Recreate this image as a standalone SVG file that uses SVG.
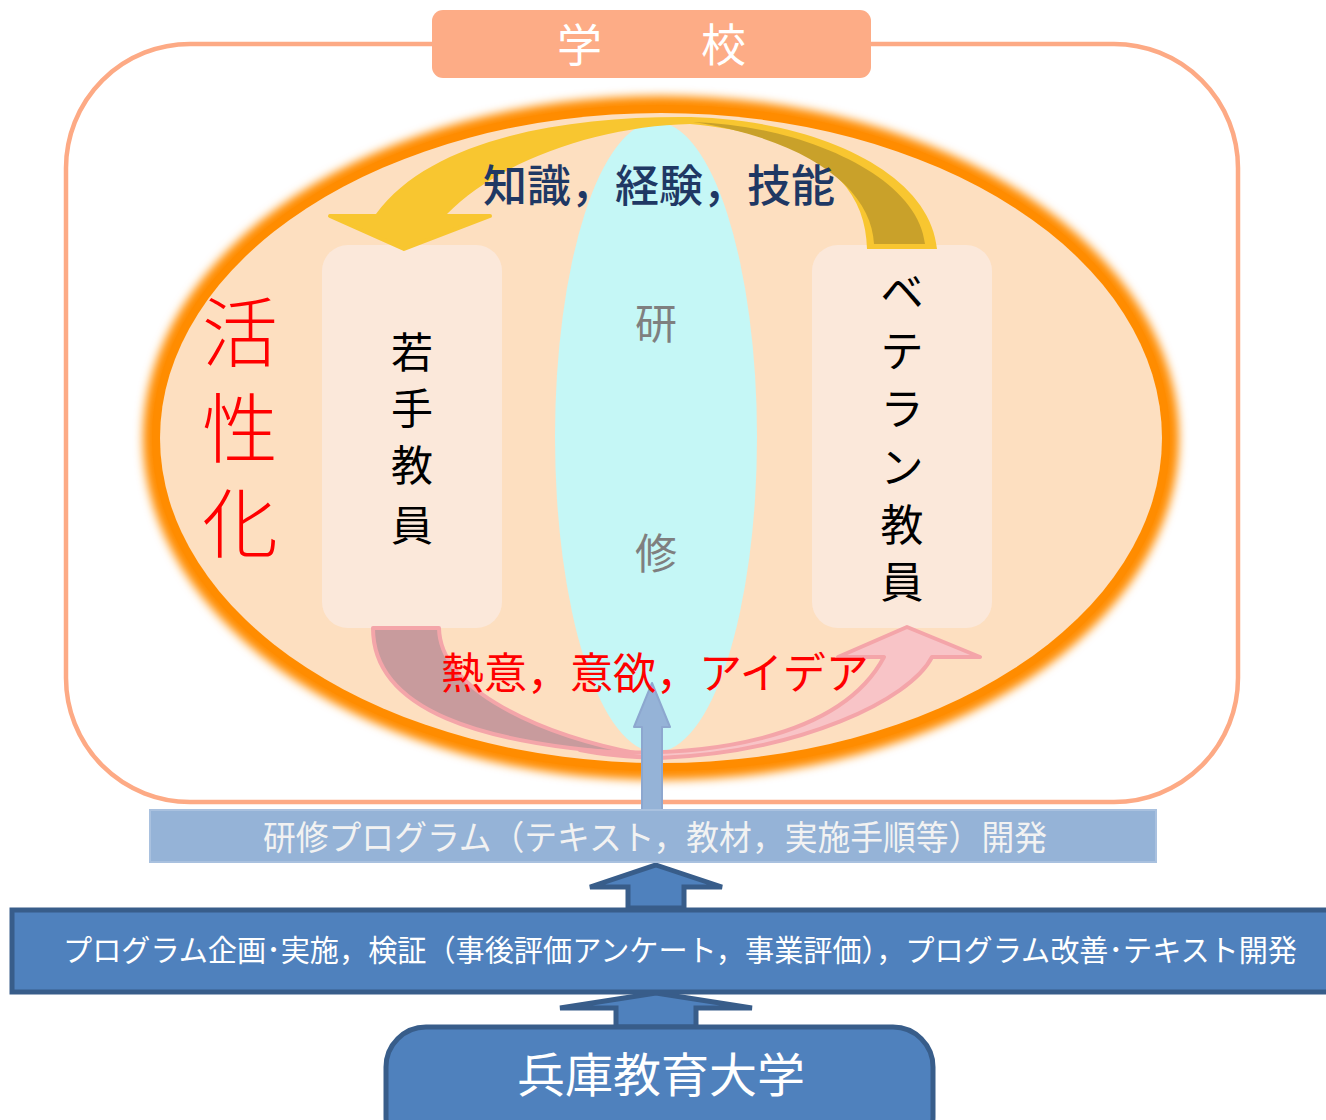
<svg xmlns="http://www.w3.org/2000/svg" width="1326" height="1120" viewBox="0 0 1326 1120">
<defs>
<style>
text{font-family:"Noto Sans CJK JP","Noto Sans CJK SC",sans-serif}
.ctr{text-anchor:middle}
.pinkband{stroke:#F4A5A9;stroke-width:4;stroke-linejoin:round}
.navy{fill:#4F81BD;stroke:#385D8A;stroke-width:5}
</style>
<filter id="glow" x="-10%" y="-10%" width="120%" height="120%"><feGaussianBlur stdDeviation="5"/></filter>
</defs>
<rect width="1326" height="1120" fill="#FFFFFF"/>

<g id="school-frame">
<rect x="66" y="44" width="1172" height="758" rx="124" ry="124" fill="none" stroke="#FDAA85" stroke-width="4.5"/>
</g>

<g id="activation-ellipse">
<ellipse cx="661" cy="438" rx="518" ry="342" fill="#FF8C00" filter="url(#glow)"/>
<ellipse cx="661" cy="438" rx="509" ry="333" fill="#FF8C00"/>
<ellipse cx="661" cy="438" rx="501" ry="325" fill="#FDDFC0"/>
</g>

<g id="training">
<ellipse cx="656" cy="437" rx="101" ry="315" fill="#C5F7F6"/>
<text class="ctr" x="656" y="339" font-size="42" fill="#7F7F7F">研</text>
<text class="ctr" x="656" y="569" font-size="42" fill="#7F7F7F">修</text>
</g>

<g id="young-teacher">
<rect x="322" y="245" width="180" height="383" rx="26" fill="#FBE8DA"/>
<text class="ctr" font-size="42" fill="#000000"><tspan x="412" y="368">若</tspan><tspan x="412" y="424">手</tspan><tspan x="412" y="481">教</tspan><tspan x="412" y="541">員</tspan></text>
</g>

<g id="veteran-teacher">
<rect x="812" y="245" width="180" height="383" rx="26" fill="#FBE8DA"/>
<text class="ctr" font-size="43" fill="#000000"><tspan x="902" y="308">ベ</tspan><tspan x="902" y="367">テ</tspan><tspan x="902" y="425">ラ</tspan><tspan x="902" y="483">ン</tspan><tspan x="902" y="541">教</tspan><tspan x="902" y="598">員</tspan></text>
</g>

<g id="activation-label">
<text class="ctr" font-size="76" font-weight="300" fill="#FF0000"><tspan x="240" y="361">活</tspan><tspan x="240" y="457">性</tspan><tspan x="240" y="552">化</tspan></text>
</g>

<g id="connectors">
<g id="knowledge-arrow">
<path d="M376 214 C430 140 560 117 680 117 C810 117 930 170 937 249 L867 249 C866 180 810 135 690 124 C600 126 500 160 447 214 Z" fill="#F8C630"/>
<path d="M330 216 L490 216 L404 249 Z" fill="#F8C630" stroke="#F8C630" stroke-width="4" stroke-linejoin="round"/>
<path d="M693 122 C800 125 918 175 925 244 L874 244 C872 190 810 140 693 122 Z" fill="#C9A12A"/>
</g>
<g id="passion-arrow">
<path class="pinkband" d="M373 628 L439 628 C440 690 540 735 640 754 C480 745 373 710 373 628 Z" fill="#C89B9D"/>
<path class="pinkband" d="M580 750 C700 760 840 740 884 657 L838 657 L907 627 L980 657 L932 657 C910 700 800 752 660 758 C630 757 600 754 580 750 Z" fill="#F8C4C7"/>
</g>
<g id="program-arrow">
<path d="M652 683 L670 727 L662 727 L662 810 L642 810 L642 727 L634 727 Z" fill="#95B3D7" stroke="#8DA7CF" stroke-width="2" stroke-linejoin="round"/>
</g>
<g id="up-arrow-1">
<path class="navy" d="M656 865 L722 887 L684 887 L684 908 L628 908 L628 887 L590 887 Z" stroke-width="4"/>
</g>
<g id="up-arrow-2">
<path class="navy" d="M656 993 L752 1008 L696 1008 L696 1027 L616 1027 L616 1008 L560 1008 Z" stroke-width="4"/>
</g>
</g>

<g id="labels">
<text x="483" y="202" font-size="44" font-weight="500" fill="#1F3864">知識，経験，技能</text>
<text x="441" y="689" font-size="43" fill="#FF0000">熱意，意欲，アイデア</text>
</g>

<g id="program-bar">
<rect x="150" y="810" width="1006" height="52" fill="#95B3D7" stroke="#A9C1DF" stroke-width="2"/>
<text x="263" y="850" font-size="34" fill="#F2F2F2" textLength="784" lengthAdjust="spacingAndGlyphs">研修プログラム（テキスト，教材，実施手順等）開発</text>
</g>

<g id="activity-bar">
<rect class="navy" x="12" y="910" width="1320" height="82"/>
<text x="63" y="961" font-size="30" fill="#FFFFFF" textLength="1234" lengthAdjust="spacingAndGlyphs">プログラム企画･実施，検証（事後評価アンケート，事業評価），プログラム改善･テキスト開発</text>
</g>

<g id="university">
<rect class="navy" x="386" y="1027" width="547" height="130" rx="40"/>
<text x="517" y="1092" font-size="47" fill="#FFFFFF" textLength="288" lengthAdjust="spacingAndGlyphs">兵庫教育大学</text>
</g>

<g id="school-label">
<rect x="432" y="10" width="439" height="68" rx="11" fill="#FDAC86"/>
<text x="557" y="62" font-size="45" fill="#FFFFFF" letter-spacing="3">学　　校</text>
</g>
</svg>
